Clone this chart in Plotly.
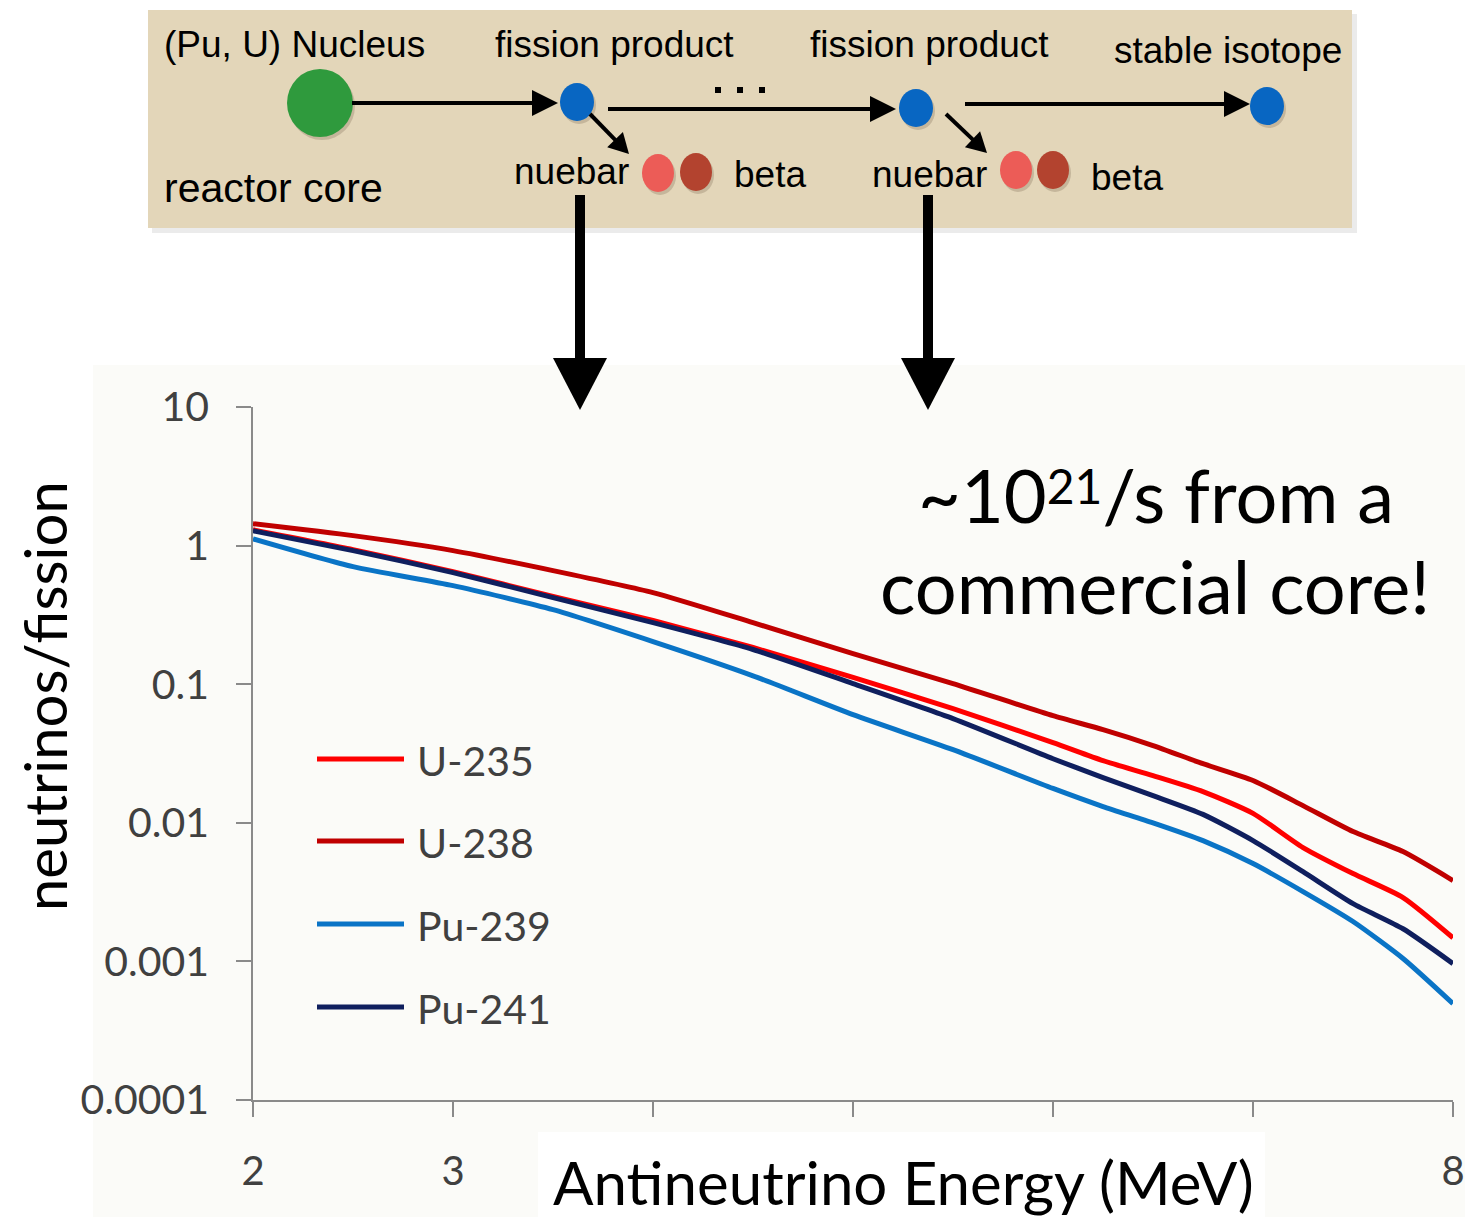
import plotly.graph_objects as go

# Antineutrino spectra per fission for the main fissile isotopes
energy_mev = [2.0, 2.5, 3.0, 3.5, 4.0, 4.5, 5.0, 5.5, 6.0, 6.25, 6.5, 6.75, 7.0, 7.25, 7.5, 7.75, 8.0]
u235 = [1.30, 0.936, 0.649, 0.429, 0.288, 0.184, 0.112, 0.0667, 0.0379, 0.0281, 0.0219, 0.0168,
        0.0117, 0.00663, 0.00430, 0.00289, 0.00148]
u238 = [1.44, 1.18, 0.920, 0.660, 0.458, 0.278, 0.166, 0.101, 0.0593, 0.0470, 0.0361, 0.0267,
        0.0202, 0.0133, 0.00864, 0.00620, 0.00383]
pu239 = [1.12, 0.705, 0.514, 0.345, 0.203, 0.115, 0.0603, 0.0337, 0.0177, 0.0131, 0.0100, 0.00744,
         0.00508, 0.00319, 0.00194, 0.00105, 0.000496]
pu241 = [1.28, 0.920, 0.639, 0.421, 0.278, 0.178, 0.101, 0.0565, 0.0290, 0.0212, 0.0157, 0.0115,
         0.00744, 0.00444, 0.00261, 0.00172, 0.000964]

series_names = ["U-235", "U-238", "Pu-239", "Pu-241"]
series_values = [u235, u238, pu239, pu241]
series_colors = ["#ff0000", "#c00000", "#0a74c6", "#0f1f5e"]

x_label_vals = [2, 3, 8]
x_label_text = ["2", "3", "8"]
x_unlabelled_vals = [4, 5, 6, 7]
y_tick_vals = [10, 1, 0.1, 0.01, 0.001, 0.0001]
y_tick_text = ["10", "1", "0.1", "0.01", "0.001", "0.0001"]

W, H = 1465, 1217
ML, MR, MT, MB = 253, 12, 407, 117
PW, PH = W - ML - MR, H - MT - MB


def fx(px):
    return (px - ML) / PW


def fy(py):
    return (H - MB - py) / PH


fig = go.Figure()
for name, vals, col in zip(series_names, series_values, series_colors):
    fig.add_trace(go.Scatter(
        x=energy_mev, y=vals, name=name, mode="lines",
        line=dict(color=col, width=5, shape="spline", smoothing=0.6),
        cliponaxis=False, showlegend=False,
    ))

shapes = []
annotations = []

# chart panel and the plain box behind the x-axis title
shapes.append(dict(type="rect", xref="paper", yref="paper", layer="below",
                   x0=fx(93), x1=fx(1465), y0=fy(1217), y1=fy(365),
                   fillcolor="#fbfbf8", line=dict(width=0)))
shapes.append(dict(type="rect", xref="paper", yref="paper", layer="below",
                   x0=fx(538), x1=fx(1265), y0=fy(1217), y1=fy(1132),
                   fillcolor="#ffffff", line=dict(width=0)))

# decay-chain diagram box with a soft shadow
shapes.append(dict(type="rect", xref="paper", yref="paper", layer="above",
                   x0=fx(152), x1=fx(1357), y0=fy(233), y1=fy(14),
                   fillcolor="rgba(0,0,0,0.08)", line=dict(width=0)))
shapes.append(dict(type="rect", xref="paper", yref="paper", layer="above",
                   x0=fx(148), x1=fx(1352), y0=fy(228), y1=fy(10),
                   fillcolor="#e3d6b9", line=dict(width=0)))


def ellipse(cx, cy, rx, ry, color):
    shapes.append(dict(type="circle", xref="paper", yref="paper", layer="above",
                       x0=fx(cx + 2 - rx), x1=fx(cx + 2 + rx), y0=fy(cy + 3 + ry), y1=fy(cy + 3 - ry),
                       fillcolor="rgba(60,40,20,0.18)", line=dict(width=0)))
    shapes.append(dict(type="circle", xref="paper", yref="paper", layer="above",
                       x0=fx(cx - rx), x1=fx(cx + rx), y0=fy(cy + ry), y1=fy(cy - ry),
                       fillcolor=color, line=dict(width=0)))


def arrow(x0, y0, x1, y1, width, head_len, head_half):
    dx, dy = x1 - x0, y1 - y0
    length = (dx * dx + dy * dy) ** 0.5
    ux, uy = dx / length, dy / length
    bx, by = x1 - ux * head_len, y1 - uy * head_len
    shapes.append(dict(type="line", xref="paper", yref="paper", layer="above",
                       x0=fx(x0), y0=fy(y0), x1=fx(bx + ux * 2), y1=fy(by + uy * 2),
                       line=dict(color="#000000", width=width)))
    nx, ny = -uy, ux
    pts = [(bx + nx * head_half, by + ny * head_half), (x1, y1), (bx - nx * head_half, by - ny * head_half)]
    path = "M {} {} L {} {} L {} {} Z".format(*[v for p in pts for v in (fx(p[0]), fy(p[1]))])
    shapes.append(dict(type="path", xref="paper", yref="paper", layer="above", path=path,
                       fillcolor="#000000", line=dict(width=0)))


ellipse(320, 103, 33, 34, "#2f9a3d")
ellipse(577, 102, 17, 19, "#0866c2")
ellipse(916, 108, 17, 19, "#0866c2")
ellipse(1267, 106, 17, 19, "#0866c2")
ellipse(658, 173, 16, 19, "#ec5c57")
ellipse(696, 172, 16, 19, "#b3432f")
ellipse(1016, 170, 16, 19, "#ec5c57")
ellipse(1053, 170, 16, 19, "#b3432f")

arrow(352, 103, 558, 103, 4, 26, 13)
arrow(608, 109, 896, 109, 4, 26, 13)
arrow(965, 104, 1250, 104, 4, 26, 13)
arrow(590, 114, 629, 154, 4, 20, 11)
arrow(946, 114, 987, 153, 4, 20, 11)
arrow(580, 195, 580, 410, 10, 52, 27)
arrow(928, 195, 928, 410, 10, 52, 27)

for dx in (718, 740, 762):
    shapes.append(dict(type="rect", xref="paper", yref="paper", layer="above",
                       x0=fx(dx - 3), x1=fx(dx + 3), y0=fy(93), y1=fy(87),
                       fillcolor="#000000", line=dict(width=0)))

DIAG_FONT = "Liberation Sans, Arial, sans-serif"


def label(text, px, py, anchor="center", size=37, family=DIAG_FONT, color="#000000"):
    annotations.append(dict(text=text, xref="paper", yref="paper", x=fx(px), y=fy(py),
                            xanchor=anchor, yanchor="middle", showarrow=False,
                            font=dict(family=family, size=size, color=color)))


label("(Pu, U) Nucleus", 162, 44, anchor="left")
label("fission product", 614, 44)
label("fission product", 929, 44)
label("stable isotope", 1228, 51)
label("reactor core", 162, 188, anchor="left", size=41)
label("nuebar", 571, 172)
label("beta", 732, 175, anchor="left")
label("nuebar", 929, 174)
label("beta", 1089, 177, anchor="left")

GILL = "Lato, 'Open Sans', sans-serif"
label("~10<span style=\"font-size:48px;baseline-shift:19px\">21</span>/s from a",
      1156, 494, size=74, family=GILL)
label("commercial core!", 1155, 585, size=74, family=GILL)
label("Antineutrino Energy (MeV)", 903, 1182, size=60, family=GILL)
annotations.append(dict(text="neutrinos/fission", xref="paper", yref="paper", x=fx(44), y=fy(696),
                        xanchor="center", yanchor="middle", showarrow=False, textangle=-90,
                        font=dict(family=GILL, size=58, color="#000000")))

# legend drawn as sample lines with labels
legend_rows = [759, 841, 924, 1007]
for name, col, ly in zip(series_names, series_colors, legend_rows):
    shapes.append(dict(type="line", xref="paper", yref="paper", layer="above",
                       x0=fx(317), x1=fx(404), y0=fy(ly), y1=fy(ly),
                       line=dict(color=col, width=5)))
    label(name, 415, ly + 1, anchor="left", size=41, family=GILL, color="#404040")

fig.update_layout(
    width=W, height=H, autosize=False,
    margin=dict(l=ML, r=MR, t=MT, b=MB, pad=0, autoexpand=False),
    paper_bgcolor="#ffffff", plot_bgcolor="rgba(0,0,0,0)",
    shapes=shapes, annotations=annotations,
    showlegend=False,
    font=dict(family=GILL, color="#404040"),
)
fig.update_xaxes(
    range=[2, 8], tickmode="array", tickvals=x_label_vals, ticktext=x_label_text,
    automargin=False,
    showgrid=False, zeroline=False, showline=True, linecolor="#8a8a8a", linewidth=1.5,
    ticks="outside", ticklen=15, tickwidth=1.5, tickcolor="#8a8a8a",
    minor=dict(tickmode="array", tickvals=x_unlabelled_vals, ticks="outside", ticklen=15,
               tickwidth=1.5, tickcolor="#8a8a8a", showgrid=False),
    tickfont=dict(family=GILL, size=40, color="#404040"), ticklabelstandoff=20,
)
fig.update_yaxes(
    type="log", range=[-4, 1], tickmode="array", tickvals=y_tick_vals, ticktext=y_tick_text,
    automargin=False,
    showgrid=False, zeroline=False, showline=True, linecolor="#8a8a8a", linewidth=1.5,
    ticks="outside", ticklen=15, tickwidth=1.5, tickcolor="#8a8a8a",
    tickfont=dict(family=GILL, size=41, color="#404040"), ticklabelstandoff=19,
)

fig.write_html("out.html", config={"responsive": False})
